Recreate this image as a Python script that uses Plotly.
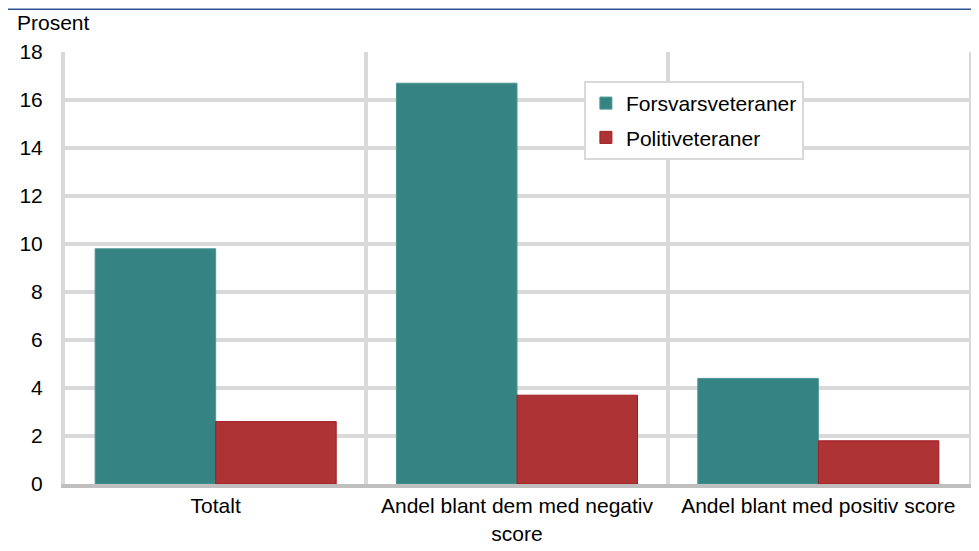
import plotly.graph_objects as go

FONT = "Liberation Sans, Arial, sans-serif"
TEAL = "#358483"
RED = "#AD3334"
GRID = "#D9D9D9"

categories = ["Totalt", "Andel blant dem med negativ<br>score", "Andel blant med positiv score"]
forsvar = [9.8, 16.7, 4.4]
politi = [2.6, 3.7, 1.8]
y_ticks = [0, 2, 4, 6, 8, 10, 12, 14, 16, 18]

fig = go.Figure()
fig.add_trace(go.Bar(
    x=categories, y=forsvar, name="Forsvarsveteraner", legendgroup="f",
    marker=dict(color=TEAL, line=dict(color="#4A9594", width=1)),
))
fig.add_trace(go.Bar(
    x=categories, y=politi, name="Politiveteraner", legendgroup="p",
    marker=dict(color=RED, line=dict(color="#A01C20", width=1)),
))

# page body adds an 8px offset, so the figure is a bit smaller than the window
fig.update_layout(
    width=971,
    height=543,
    barmode="group",
    bargap=0.2,
    bargroupgap=0,
    plot_bgcolor="white",
    paper_bgcolor="white",
    font=dict(family=FONT, size=21, color="black"),
    margin=dict(l=57, r=6, t=44, b=65),
    legend=dict(
        x=0.574, y=0.933, xanchor="left", yanchor="top",
        bordercolor=GRID, borderwidth=2, bgcolor="white",
        font=dict(size=21), itemwidth=30, tracegroupgap=4,
    ),
    xaxis=dict(
        type="category",
        tickson="boundaries",
        showgrid=True, gridcolor=GRID, gridwidth=4,
        showline=True, linecolor="#BFBFBF", linewidth=4,
        ticks="", fixedrange=True,
    ),
    yaxis=dict(
        range=[0, 18], tickvals=y_ticks,
        showgrid=True, gridcolor=GRID, gridwidth=4,
        zeroline=False,
        showline=True, linecolor=GRID, linewidth=4, mirror=True,
        ticks="", ticklabelstandoff=14, fixedrange=True,
    ),
    shapes=[dict(
        type="line", xref="paper", yref="paper",
        x0=-0.08, x1=1.01, y0=1.099, y1=1.099,
        line=dict(color="#2F5496", width=1.5),
    )],
    annotations=[dict(
        text="Prosent", xref="paper", yref="paper",
        x=-0.055, y=1.099, xanchor="left", yanchor="top",
        showarrow=False, font=dict(size=21),
    )],
)

fig.write_html("out.html")
